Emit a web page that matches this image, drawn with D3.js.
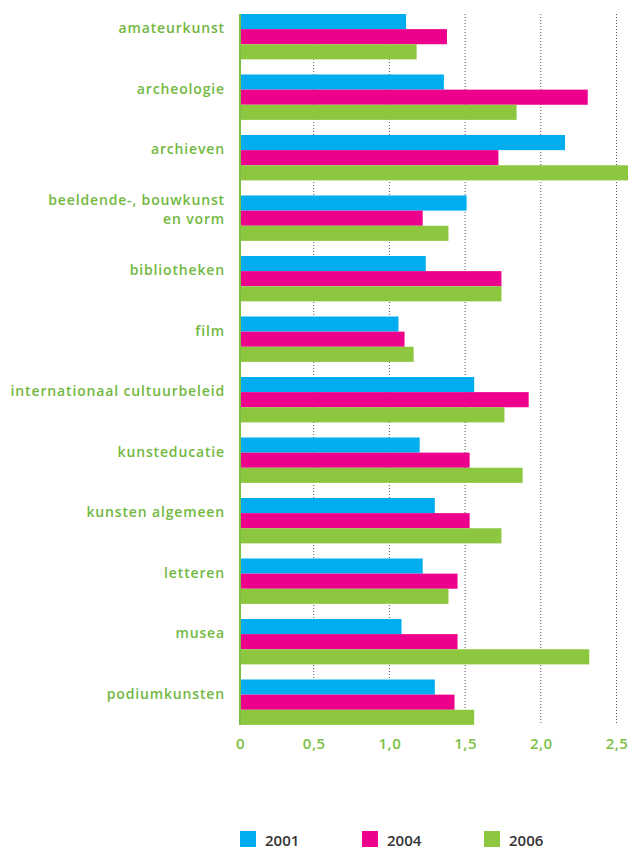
<!DOCTYPE html>
<html><head><meta charset="utf-8">
<script src="https://cdn.jsdelivr.net/npm/d3@7"></script>
<style>
html,body{margin:0;padding:0;background:#fff;}
svg{display:block;}
text{font-family:"Open Sans",sans-serif;}
</style></head>
<body>
<script>
const categories = ["amateurkunst","archeologie","archieven","beeldende-, bouwkunst\nen vorm","bibliotheken","film","internationaal cultuurbeleid","kunsteducatie","kunsten algemeen","letteren","musea","podiumkunsten"];
const years = ["2001","2004","2006"];
const values2001 = [1.11,1.36,2.16,1.51,1.24,1.06,1.56,1.20,1.30,1.22,1.08,1.30];
const values2004 = [1.38,2.31,1.72,1.22,1.74,1.10,1.92,1.53,1.53,1.45,1.45,1.43];
const values2006 = [1.18,1.84,2.60,1.39,1.74,1.16,1.76,1.88,1.74,1.39,2.32,1.56];
const tickValues = [0,0.5,1,1.5,2,2.5];
const tickLabels = ["0","0,5","1,0","1,5","2,0","2,5"];
const colors = ["#00aeef","#ec008c","#8dc63f"];

const W=628,H=849;
const svg=d3.select("body").append("svg").attr("width",W).attr("height",H);
const x=d3.scaleLinear().domain([0,1]).range([238,389.4]);
const y=d3.scaleBand().domain(categories).range([14,740]).paddingInner(0).paddingOuter(0);
const sub=d3.scaleBand().domain(years).range([0,y.bandwidth()*0.75]);
const series=[values2001,values2004,values2006];

// gridlines
svg.append("g").selectAll("line").data(tickValues.filter(d=>d>0)).join("line")
  .attr("x1",d=>x(d)).attr("x2",d=>x(d)).attr("y1",14).attr("y2",725)
  .attr("stroke","#555").attr("stroke-width",1).attr("stroke-dasharray","1,2");

// bars
series.forEach((vals,si)=>{
  svg.append("g").selectAll("rect").data(categories).join("rect")
    .attr("x",x(0)+2)
    .attr("y",c=>y(c)+sub(years[si]))
    .attr("height",sub.bandwidth())
    .attr("width",(c,i)=>x(vals[i])-x(0)-2)
    .attr("fill",colors[si]);
});

// axis line
svg.append("line").attr("x1",240).attr("x2",240).attr("y1",14).attr("y2",725)
  .attr("stroke","#7cbf45").attr("stroke-width",2);

// category labels
const lab=svg.append("g");
categories.forEach(c=>{
  const lines=c.split("\n");
  const cy=y(c)+14;
  const lh=19;
  const t=lab.append("text").attr("text-anchor","end").attr("fill","#72b83f")
    .attr("font-size",14).attr("font-weight",600).attr("letter-spacing",0.85);
  lines.forEach((l,i)=>{
    t.append("tspan").attr("x",225).attr("y",cy+5-(lines.length-1)*lh/2+i*lh).text(l);
  });
});

// x axis tick labels
const xAxis=d3.axisBottom(x).tickValues(tickValues).tickFormat((d,i)=>tickLabels[i]).tickSize(0);
const ax=svg.append("g").attr("transform","translate(0,735)").call(xAxis);
ax.select(".domain").remove();
ax.selectAll("text").attr("fill","#7cbf45").attr("font-size",15).attr("font-weight",600)
  .attr("font-family","Open Sans, sans-serif").attr("dy","0.71em").attr("letter-spacing",0.5);
ax.selectAll(".tick").filter(d=>d===0).select("text").attr("x",2);

// legend
const leg=svg.append("g");
years.forEach((yr,i)=>{
  const lx=240+i*122;
  leg.append("rect").attr("x",lx).attr("y",831).attr("width",16).attr("height",16).attr("fill",colors[i]);
  leg.append("text").attr("x",lx+25).attr("y",846).attr("fill","#333").attr("font-size",15)
    .attr("font-weight",600).text(yr);
});
</script>
</body></html>
